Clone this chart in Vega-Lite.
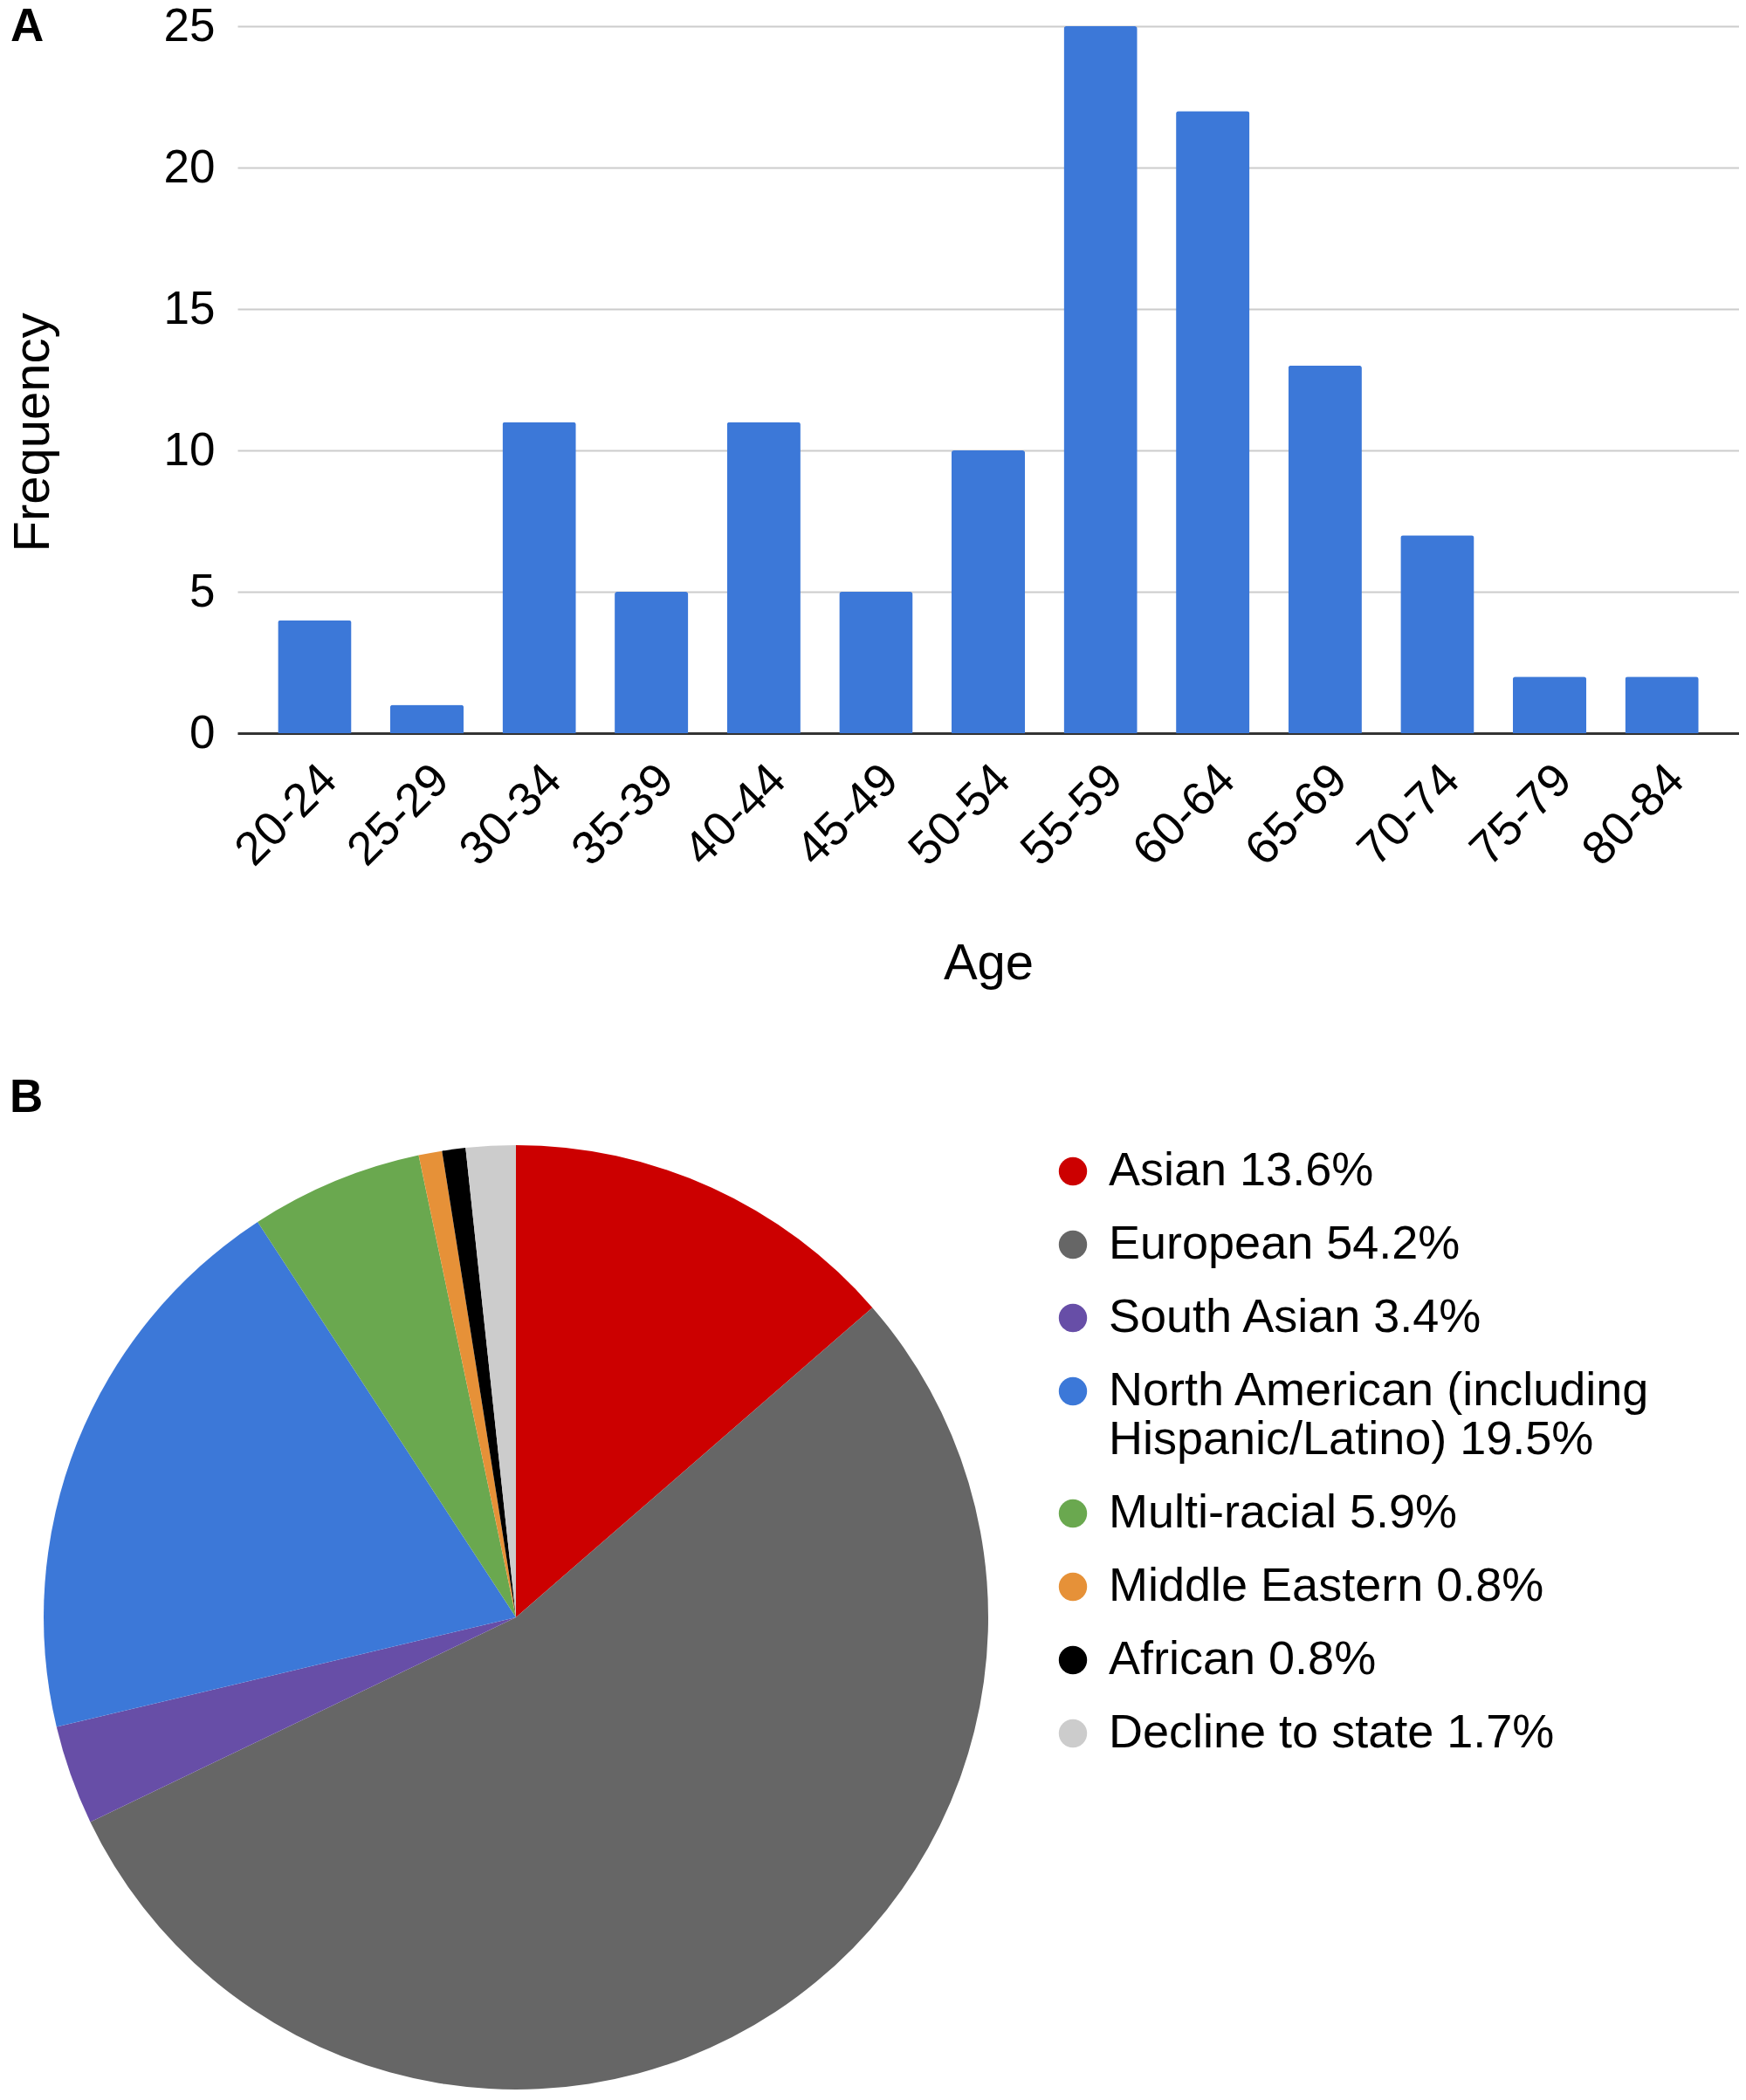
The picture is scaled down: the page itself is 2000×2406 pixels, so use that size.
{
  "$schema": "https://vega.github.io/schema/vega-lite/v6.json",
  "background": "white",
  "padding": {"left": 9, "top": 4, "right": 0, "bottom": 0},
  "bounds": "flush",
  "spacing": 471,
  "config": {
    "view": {"stroke": null},
    "font": "Liberation Sans",
    "title": {"font": "Liberation Sans", "color": "#000000"}
  },
  "vconcat": [
    {
      "width": 1720,
      "height": 810,
      "title": {
        "text": "A",
        "anchor": "start",
        "frame": "bounds",
        "fontSize": 53,
        "fontWeight": "bold",
        "baseline": "alphabetic",
        "offset": -96,
        "dx": 3
      },
      "data": {
        "values": [
          {"age": "20-24", "frequency": 4},
          {"age": "25-29", "frequency": 1},
          {"age": "30-34", "frequency": 11},
          {"age": "35-39", "frequency": 5},
          {"age": "40-44", "frequency": 11},
          {"age": "45-49", "frequency": 5},
          {"age": "50-54", "frequency": 10},
          {"age": "55-59", "frequency": 25},
          {"age": "60-64", "frequency": 22},
          {"age": "65-69", "frequency": 13},
          {"age": "70-74", "frequency": 7},
          {"age": "75-79", "frequency": 2},
          {"age": "80-84", "frequency": 2}
        ]
      },
      "mark": {
        "type": "bar",
        "color": "#3c78d8",
        "cornerRadiusTopLeft": 3,
        "cornerRadiusTopRight": 3
      },
      "encoding": {
        "x": {
          "field": "age",
          "type": "nominal",
          "sort": null,
          "scale": {"paddingInner": 0.345, "paddingOuter": 0.36},
          "axis": {
            "title": "Age",
            "labelAngle": -45,
            "labelAlign": "right",
            "labelBaseline": "middle",
            "labelFontSize": 54,
            "labelColor": "#000000",
            "labelPadding": 45,
            "labelOffset": 17,
            "ticks": false,
            "domainColor": "#333333",
            "domainWidth": 3,
            "titleFontSize": 58,
            "titleFontWeight": "normal",
            "titleColor": "#000000",
            "titlePadding": 74
          }
        },
        "y": {
          "field": "frequency",
          "type": "quantitative",
          "scale": {"domain": [0, 25]},
          "axis": {
            "title": "Frequency",
            "values": [0, 5, 10, 15, 20, 25],
            "ticks": false,
            "domain": false,
            "labelFontSize": 53,
            "labelColor": "#000000",
            "labelPadding": 26,
            "gridColor": "#cccccc",
            "gridWidth": 2,
            "titleFontSize": 58,
            "titleFontWeight": "normal",
            "titleColor": "#000000",
            "titlePadding": 120,
            "titleY": 465
          }
        }
      }
    },
    {
      "width": 638,
      "height": 1084,
      "title": {
        "text": "B",
        "anchor": "start",
        "frame": "bounds",
        "fontSize": 53,
        "fontWeight": "bold",
        "baseline": "alphabetic",
        "offset": -16,
        "dx": -39
      },
      "data": {
        "values": [
          {"group": "Asian 13.6%", "pct": 13.6, "rank": 1},
          {"group": "European 54.2%", "pct": 54.2, "rank": 2},
          {"group": "South Asian 3.4%", "pct": 3.4, "rank": 3},
          {"group": "North American (including Hispanic/Latino) 19.5%", "pct": 19.5, "rank": 4},
          {"group": "Multi-racial 5.9%", "pct": 5.9, "rank": 5},
          {"group": "Middle Eastern 0.8%", "pct": 0.8, "rank": 6},
          {"group": "African 0.8%", "pct": 0.8, "rank": 7},
          {"group": "Decline to state 1.7%", "pct": 1.7, "rank": 8}
        ]
      },
      "mark": {"type": "arc", "radius": 541},
      "encoding": {
        "theta": {"field": "pct", "type": "quantitative", "stack": true},
        "order": {"field": "rank", "type": "quantitative"},
        "color": {
          "field": "group",
          "type": "nominal",
          "scale": {
            "domain": [
              "Asian 13.6%",
              "European 54.2%",
              "South Asian 3.4%",
              "North American (including Hispanic/Latino) 19.5%",
              "Multi-racial 5.9%",
              "Middle Eastern 0.8%",
              "African 0.8%",
              "Decline to state 1.7%"
            ],
            "range": ["#cc0000", "#666666", "#674ea7", "#3c78d8", "#6aa84f", "#e69138", "#000000", "#cccccc"]
          },
          "legend": {
            "title": null,
            "orient": "none",
            "legendX": 930,
            "legendY": 1285,
            "padding": 0,
            "symbolType": "circle",
            "symbolSize": 1050,
            "symbolStrokeWidth": 0,
            "symbolOpacity": 1,
            "labelFontSize": 54,
            "labelFont": "Liberation Sans",
            "labelColor": "#000000",
            "labelOffset": 14,
            "labelLimit": 0,
            "rowPadding": 30,
            "labelExpr": "datum.label == 'North American (including Hispanic/Latino) 19.5%' ? ['North American (including', 'Hispanic/Latino) 19.5%'] : datum.label"
          }
        }
      }
    }
  ]
}
